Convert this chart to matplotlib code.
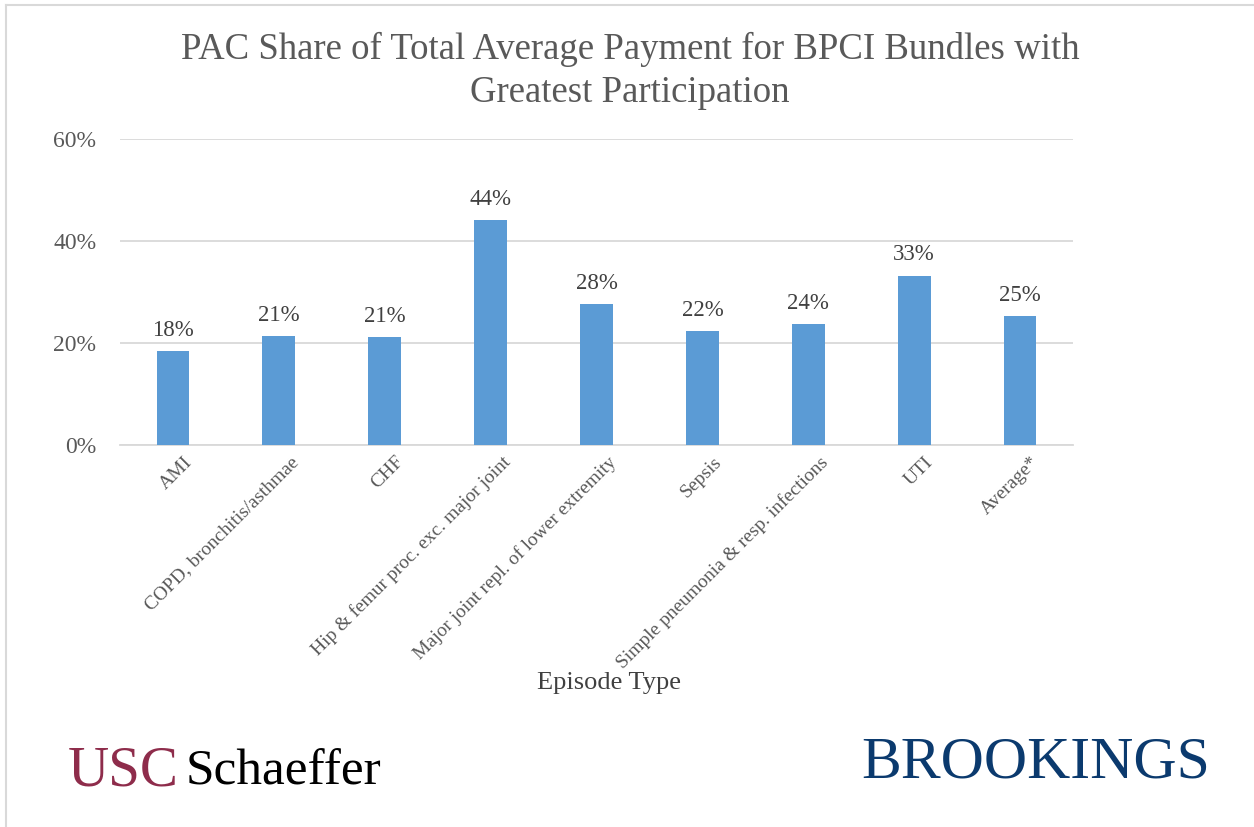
import matplotlib.pyplot as plt
from matplotlib.lines import Line2D

# Data
categories = ['AMI', 'COPD, bronchitis/asthmae', 'CHF',
              'Hip & femur proc. exc. major joint',
              'Major joint repl. of lower extremity', 'Sepsis',
              'Simple pneumonia & resp. infections', 'UTI', 'Average*']
shares = [18.4, 21.4, 21.2, 44.1, 27.6, 22.4, 23.7, 33.2, 25.3]
labels = ['18%', '21%', '21%', '44%', '28%', '22%', '24%', '33%', '25%']
yticks = [0, 20, 40, 60]

plt.rcParams['font.family'] = ['Liberation Serif', 'DejaVu Serif']
grey = '#595959'

fig = plt.figure(figsize=(12.54, 8.27), dpi=100)
ax = fig.add_axes([120 / 1254, 1 - 445 / 827, 953 / 1254, 306 / 827])

x = range(len(categories))
ax.bar(x, shares, width=0.31, color='#5B9BD5', zorder=3)
for xi, v, lab in zip(x, shares, labels):
    ax.text(xi, v + 2.0, lab, ha='center', va='bottom', fontsize=16.5, color='#404040')

ax.set_xlim(-0.5, len(categories) - 0.5)
ax.set_ylim(0, 60)
ax.set_yticks(yticks)
ax.set_yticklabels([f'{t}%' for t in yticks], fontsize=17, color=grey)
ax.yaxis.grid(True, color='#D9D9D9', linewidth=1.3, zorder=0)
ax.tick_params(axis='y', length=0, pad=17)
ax.tick_params(axis='x', length=0, pad=6)
for s in ['top', 'right', 'left']:
    ax.spines[s].set_visible(False)
ax.spines['bottom'].set_color('#D9D9D9')
ax.spines['bottom'].set_linewidth(1.3)

ax.set_xticks([xi + 0.1 for xi in x])
ax.set_xticklabels(categories, rotation=45, ha='right', rotation_mode='anchor',
                   fontsize=14, color=grey)

fig.text(630 / 1254, 1 - 71 / 827,
         'PAC Share of Total Average Payment for BPCI Bundles with\nGreatest Participation',
         ha='center', va='center', fontsize=26.5, color=grey, linespacing=1.32)
fig.text(609 / 1254, 1 - 683 / 827, 'Episode Type', ha='center', va='center',
         fontsize=19, color='#404040')

# Logos as text
fig.text(68 / 1254, 1 - 772 / 827, 'USC', fontsize=41, color='#8E2C4B',
         ha='left', va='center')
fig.text(186 / 1254, 1 - 772 / 827, 'Schaeffer', fontsize=37, color='black',
         ha='left', va='center')
fig.text(1036 / 1254, 1 - 764 / 827, 'BROOKINGS', fontsize=43, color='#0B3A6E',
         ha='center', va='center')

# faint frame on top and left
fig.add_artist(Line2D([6 / 1254, 1], [1 - 5 / 827, 1 - 5 / 827],
                      transform=fig.transFigure, color='#D9D9D9', linewidth=1.5))
fig.add_artist(Line2D([6 / 1254, 6 / 1254], [0, 1 - 5 / 827],
                      transform=fig.transFigure, color='#D9D9D9', linewidth=1.5))

fig.savefig('out.png', dpi=100)
